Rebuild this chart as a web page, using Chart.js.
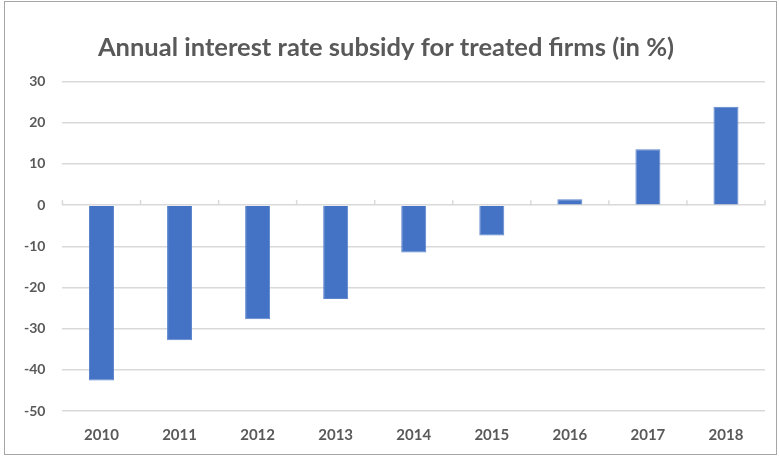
<!DOCTYPE html>
<html lang="en">
<head>
    <meta charset="UTF-8">
    <title>Annual interest rate subsidy</title>
    <style>
        body { margin: 0; background: #fff; }
        #wrap { position: relative; width: 779px; height: 456px; }
        #frame {
            position: absolute; left: 4px; top: 1px; width: 771px; height: 452px;
            border: 1px solid #a6a6a6; pointer-events: none;
        }
    </style>
</head>
<body>
    <div id="wrap">
        <canvas id="subsidyChart" width="779" height="456"></canvas>
        <div id="frame"></div>
    </div>

    <script src="https://cdn.jsdelivr.net/npm/chart.js"></script>
    <script>
        const years = ['2010', '2011', '2012', '2013', '2014', '2015', '2016', '2017', '2018'];
        const subsidy = [-42.6, -32.8, -27.7, -22.8, -11.5, -7.4, 1.4, 13.6, 23.9];
        const yMin = -50, yMax = 30, yStep = 10;

        // little upward tick marks on the zero line, between categories
        const zeroTicks = {
            id: 'zeroTicks',
            beforeDatasetsDraw(chart) {
                const x = chart.scales.x, y = chart.scales.y;
                const y0 = y.getPixelForValue(0);
                const ctx = chart.ctx;
                ctx.save();
                ctx.strokeStyle = '#d9d9d9';
                ctx.lineWidth = 1.5;
                for (let i = 0; i <= years.length; i++) {
                    const px = x.left + i * x.width / years.length;
                    ctx.beginPath();
                    ctx.moveTo(px, y0);
                    ctx.lineTo(px, y0 - 5);
                    ctx.stroke();
                }
                ctx.restore();
            }
        };

        const ctx = document.getElementById('subsidyChart').getContext('2d');
        new Chart(ctx, {
            type: 'bar',
            data: {
                labels: years,
                datasets: [{
                    data: subsidy,
                    backgroundColor: '#4472C4',
                    borderColor: '#5b84cc',
                    borderWidth: 1,
                    barPercentage: 0.32,
                    categoryPercentage: 1
                }]
            },
            options: {
                responsive: false,
                animation: false,
                layout: { padding: { left: 7, right: 14, top: 0, bottom: 5 } },
                plugins: {
                    legend: { display: false },
                    tooltip: { enabled: false },
                    title: {
                        display: true,
                        text: 'Annual interest rate subsidy for treated firms (in %)',
                        color: '#595959',
                        font: { family: 'Lato', size: 25.5, weight: 'bold' },
                        padding: { top: 32, bottom: 19 }
                    }
                },
                scales: {
                    x: {
                        grid: { display: false },
                        border: { display: false },
                        ticks: {
                            color: '#595959',
                            font: { family: 'Lato', size: 15, weight: 'bold' },
                            padding: 7
                        }
                    },
                    y: {
                        min: yMin,
                        max: yMax,
                        border: { display: false },
                        grid: { color: '#d9d9d9', lineWidth: 1.5, drawTicks: false },
                        ticks: {
                            stepSize: yStep,
                            color: '#595959',
                            font: { family: 'Lato', size: 14, weight: 'bold' },
                            padding: 17
                        }
                    }
                }
            },
            plugins: [zeroTicks]
        });
    </script>
</body>
</html>
